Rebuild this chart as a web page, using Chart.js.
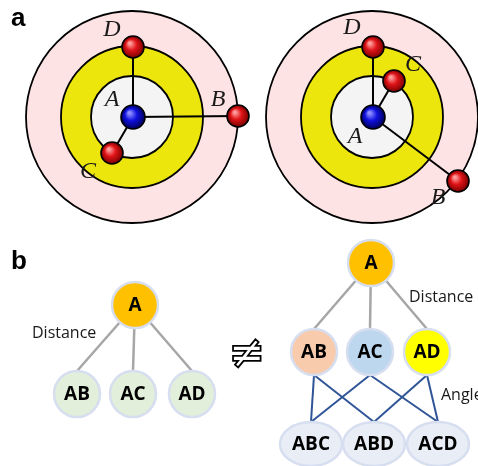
<!DOCTYPE html>
<html>
<head>
<meta charset="utf-8">
<script src="https://cdn.jsdelivr.net/npm/chart.js@4/dist/chart.umd.min.js"></script>
<style>
  html, body { margin: 0; padding: 0; background: #fff; overflow: hidden; }
</style>
</head>
<body>
<canvas id="figure" width="478" height="466"></canvas>
<script>
// panel a: two molecules on distance rings
const ringCenterX = [132, 372];
const ringCenterY = [117, 117];
const ringRadius = [106, 71, 41];

const atomNames = ['A', 'B', 'C', 'D'];
const leftAtomX = [133, 238, 112, 133];
const leftAtomY = [117, 116, 153, 47];
const rightAtomX = [373, 458, 394, 373];
const rightAtomY = [117, 181, 81, 47];
const leftLabelX = [112, 218, 88, 112];
const leftLabelY = [100, 100, 172, 30];
const rightLabelX = [355, 438, 413, 352];
const rightLabelY = [137, 198, 65, 28];

// panel b: distance tree vs distance + angle tree
const leftTreeNames = ['A', 'AB', 'AC', 'AD'];
const leftTreeX = [135, 77, 133, 192];
const leftTreeY = [305, 394, 394, 394];
const rightTreeNames = ['A', 'AB', 'AC', 'AD'];
const rightTreeX = [371, 314, 370, 427];
const rightTreeY = [263, 352, 352, 352];
const tripleNames = ['ABC', 'ABD', 'ACD'];
const tripleX = [311, 374, 438];
const tripleY = [444, 444, 444];

const ringFill = ['#fde3e3', '#ede60c', '#f4f4f4'];
const leftTreeFill = ['#ffc000', '#e2efda', '#e2efda', '#e2efda'];
const rightTreeFill = ['#ffc000', '#f8cbad', '#bdd7ee', '#ffff00'];
const NODE_R = 23;
const TRIPLE_RX = 31;
const TRIPLE_RY = 22;

function seg(x1, y1, x2, y2, color, width) {
    return {
        data: [{ x: x1, y: y1 }, { x: x2, y: y2 }],
        showLine: true,
        borderColor: color,
        borderWidth: width,
        pointRadius: 0,
        fill: false
    };
}

const datasets = [];
// bonds from A
for (let i = 1; i < atomNames.length; i++) {
    datasets.push(seg(leftAtomX[0], leftAtomY[0], leftAtomX[i], leftAtomY[i], '#000', 2));
    datasets.push(seg(rightAtomX[0], rightAtomY[0], rightAtomX[i], rightAtomY[i], '#000', 2));
}
// distance edges
for (let i = 1; i < leftTreeNames.length; i++) {
    datasets.push(seg(leftTreeX[0], leftTreeY[0], leftTreeX[i], leftTreeY[i] - NODE_R, '#a6a6a6', 2.5));
    datasets.push(seg(rightTreeX[0], rightTreeY[0], rightTreeX[i], rightTreeY[i] - NODE_R, '#a6a6a6', 2.5));
}
// angle edges: pair -> triple containing it
for (let i = 1; i < rightTreeNames.length; i++) {
    tripleNames.forEach((t, j) => {
        if ([...rightTreeNames[i]].every(c => t.includes(c))) {
            datasets.push(seg(rightTreeX[i], rightTreeY[i] + NODE_R, tripleX[j], tripleY[j] - TRIPLE_RY, '#2f5597', 2));
        }
    });
}

function drawBall(ctx, px, py, r, stops) {
    const g = ctx.createRadialGradient(px - r * 0.3, py - r * 0.35, r * 0.1, px, py, r);
    g.addColorStop(0, stops[0]);
    g.addColorStop(0.45, stops[1]);
    g.addColorStop(1, stops[2]);
    ctx.beginPath();
    ctx.arc(px, py, r, 0, Math.PI * 2);
    ctx.fillStyle = g;
    ctx.fill();
    ctx.lineWidth = 1.6;
    ctx.strokeStyle = '#000';
    ctx.stroke();
}

function drawNode(ctx, px, py, rx, ry, fill, label) {
    ctx.beginPath();
    ctx.ellipse(px, py, rx, ry, 0, 0, Math.PI * 2);
    ctx.fillStyle = fill;
    ctx.fill();
    ctx.lineWidth = 2.5;
    ctx.strokeStyle = '#d6def0';
    ctx.stroke();
    ctx.fillStyle = '#000';
    ctx.font = 'bold 19px "Open Sans"';
    ctx.textAlign = 'center';
    ctx.textBaseline = 'middle';
    ctx.fillText(label, px, py + 1);
}

const figurePlugin = {
    id: 'figure',
    beforeDatasetsDraw(chart) {
        const { ctx, scales: { x, y } } = chart;
        const unit = x.getPixelForValue(1) - x.getPixelForValue(0);
        ctx.save();
        ringCenterX.forEach((cx, i) => {
            ringRadius.forEach((r, j) => {
                ctx.beginPath();
                ctx.arc(x.getPixelForValue(cx), y.getPixelForValue(ringCenterY[i]), r * unit, 0, Math.PI * 2);
                ctx.fillStyle = ringFill[j];
                ctx.fill();
                ctx.lineWidth = 1.8;
                ctx.strokeStyle = '#000';
                ctx.stroke();
            });
        });
        ctx.restore();
    },
    afterDatasetsDraw(chart) {
        const { ctx, scales: { x, y } } = chart;
        const unit = x.getPixelForValue(1) - x.getPixelForValue(0);
        ctx.save();

        // atoms
        const red = ['#ff9c9c', '#e01418', '#7a0000'];
        const blue = ['#8c8cff', '#1010e0', '#00005a'];
        [[leftAtomX, leftAtomY], [rightAtomX, rightAtomY]].forEach(([ax, ay]) => {
            for (let i = atomNames.length - 1; i >= 0; i--) {
                drawBall(ctx, x.getPixelForValue(ax[i]), y.getPixelForValue(ay[i]), (i === 0 ? 12 : 11) * unit, i === 0 ? blue : red);
            }
        });

        ctx.font = 'italic 24px "Liberation Serif"';
        ctx.fillStyle = '#1a1a1a';
        ctx.textAlign = 'center';
        ctx.textBaseline = 'middle';
        atomNames.forEach((n, i) => {
            ctx.fillText(n, x.getPixelForValue(leftLabelX[i]), y.getPixelForValue(leftLabelY[i]));
            ctx.fillText(n, x.getPixelForValue(rightLabelX[i]), y.getPixelForValue(rightLabelY[i]));
        });

        // tree nodes
        leftTreeNames.forEach((n, i) => {
            drawNode(ctx, x.getPixelForValue(leftTreeX[i]), y.getPixelForValue(leftTreeY[i]), NODE_R * unit, NODE_R * unit, leftTreeFill[i], n);
        });
        rightTreeNames.forEach((n, i) => {
            drawNode(ctx, x.getPixelForValue(rightTreeX[i]), y.getPixelForValue(rightTreeY[i]), NODE_R * unit, NODE_R * unit, rightTreeFill[i], n);
        });
        tripleNames.forEach((n, i) => {
            drawNode(ctx, x.getPixelForValue(tripleX[i]), y.getPixelForValue(tripleY[i]), TRIPLE_RX * unit, TRIPLE_RY * unit, '#e9eef6', n);
        });

        // annotations
        ctx.fillStyle = '#1a1a1a';
        ctx.font = '16px "Open Sans"';
        ctx.textAlign = 'left';
        ctx.textBaseline = 'middle';
        ctx.fillText('Distance', x.getPixelForValue(32), y.getPixelForValue(333));
        ctx.fillText('Distance', x.getPixelForValue(409), y.getPixelForValue(297));
        ctx.fillText('Angle', x.getPixelForValue(441), y.getPixelForValue(395));

        ctx.font = 'bold 44px "DejaVu Sans"';
        ctx.textAlign = 'center';
        ctx.fillStyle = '#fff';
        ctx.fillText('\u2260', x.getPixelForValue(247), y.getPixelForValue(356));
        ctx.lineWidth = 1.8;
        ctx.strokeStyle = '#000';
        ctx.strokeText('\u2260', x.getPixelForValue(247), y.getPixelForValue(356));

        ctx.fillStyle = '#000';
        ctx.font = 'bold 26px "Liberation Sans"';
        ctx.textAlign = 'left';
        ctx.textBaseline = 'alphabetic';
        ctx.fillText('a', x.getPixelForValue(11), y.getPixelForValue(26));
        ctx.fillText('b', x.getPixelForValue(11), y.getPixelForValue(269));
        ctx.restore();
    }
};

new Chart(document.getElementById('figure'), {
    type: 'scatter',
    data: { datasets: datasets },
    options: {
        responsive: false,
        animation: false,
        devicePixelRatio: 1,
        events: [],
        layout: { padding: 0 },
        plugins: { legend: { display: false }, tooltip: { enabled: false } },
        scales: {
            x: { type: 'linear', min: 0, max: 478, display: false },
            y: { type: 'linear', min: 0, max: 466, reverse: true, display: false }
        }
    },
    plugins: [figurePlugin]
});
</script>
</body>
</html>
